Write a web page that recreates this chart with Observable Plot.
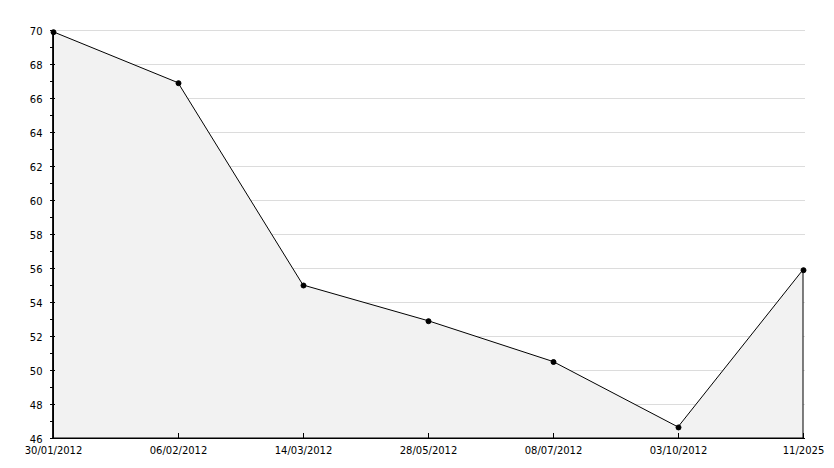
<!DOCTYPE html>
<html>
<head>
<meta charset="utf-8">
<script src="https://cdn.jsdelivr.net/npm/d3@7"></script>
<script src="https://cdn.jsdelivr.net/npm/@observablehq/plot@0.6"></script>
<style>
  html, body { margin: 0; padding: 0; background: #fff; }
  #chart svg { display: block; }
</style>
</head>
<body>
<div id="chart"></div>
<script>
const dates = ["30/01/2012", "06/02/2012", "14/03/2012", "28/05/2012", "08/07/2012", "03/10/2012", "11/2025"];
const values = [69.9, 66.9, 55.0, 52.9, 50.5, 46.65, 55.9];
const majorTicks = [46, 48, 50, 52, 54, 56, 58, 60, 62, 64, 66, 68, 70];
const minorTicks = [47, 49, 51, 53, 55, 57, 59, 61, 63, 65, 67, 69];

const data = dates.map((d, i) => ({date: d, value: values[i]}));

const chart = Plot.plot({
  width: 834,
  height: 468,
  marginLeft: 50,
  marginRight: 29,
  marginTop: 30,
  marginBottom: 30,
  style: {fontFamily: "DejaVu Sans", fontSize: "10px", color: "#000", background: "#fff"},
  x: {type: "point", domain: dates, padding: 0, label: null},
  y: {domain: [46, 70], label: null},
  marks: [
    Plot.gridY(majorTicks, {stroke: "#dcdcdc", strokeOpacity: 1}),
    Plot.areaY(data, {x: "date", y1: 46, y2: "value", fill: "#f2f2f2", stroke: "#000", strokeWidth: 1}),
    Plot.ruleX([dates[0]], {y1: 46, y2: 70, stroke: "#000"}),
    Plot.ruleY([46], {stroke: "#000"}),
    Plot.axisY({ticks: majorTicks, tickSize: 5, dx: 5, text: null, stroke: "#000"}),
    Plot.axisY({ticks: minorTicks, tickSize: 3, dx: 3, text: null, stroke: "#000"}),
    Plot.axisY({ticks: majorTicks, tickSize: 0, tickPadding: 8, dy: 1, fill: "#000", tickFormat: d => d}),
    Plot.axisX({tickSize: 5, dy: -5, text: null, stroke: "#000"}),
    Plot.axisX({tickSize: 0, tickPadding: 8, fill: "#000"}),
    Plot.dot(data, {x: "date", y: "value", r: 2.5, fill: "#000", stroke: "#000", strokeWidth: 1})
  ]
});
document.getElementById("chart").append(chart);
</script>
</body>
</html>
